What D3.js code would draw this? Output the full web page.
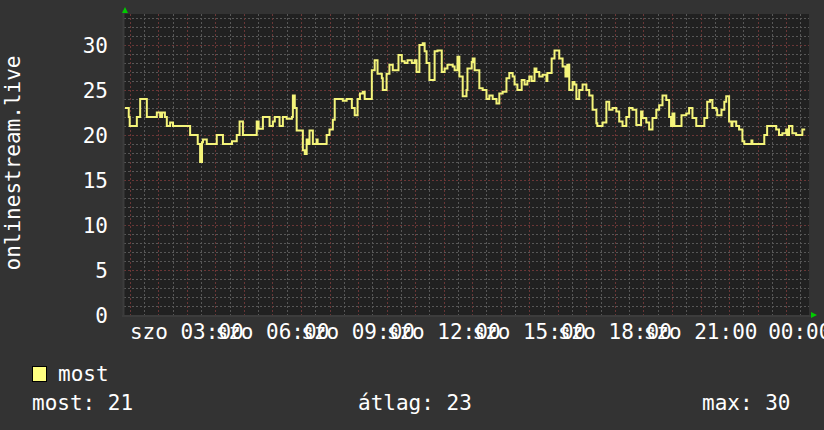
<!DOCTYPE html>
<html>
<head>
<meta charset="utf-8">
<script src="https://cdn.jsdelivr.net/npm/d3@7"></script>
<style>
  html, body { margin: 0; padding: 0; background: #333333; }
  svg text { font-family: "DejaVu Sans Mono", monospace; fill: #ffffff; }
</style>
</head>
<body>
<div id="chart"></div>
<script>
// samples (clock time, value)
var times = ["00:50","00:58","01:00","01:15","01:22","01:36","01:57","02:04","02:08","02:14",
  "02:18","02:25","02:31","03:07","03:23","03:28","03:32","03:34","03:42","04:03",
  "04:16","04:35","04:45","04:51","04:58","05:27","05:31","05:40","05:54","06:01",
  "06:05","06:15","06:22","06:30","06:41","06:43","06:47","06:51","07:04","07:08",
  "07:12","07:14","07:18","07:25","07:33","07:35","07:54","08:00","08:07","08:11",
  "08:28","08:36","08:47","08:53","08:59","09:04","09:10","09:14","09:29","09:35",
  "09:41","09:50","09:52","10:00","10:06","10:13","10:25","10:32","10:38","10:44",
  "10:53","10:59","11:03","11:09","11:16","11:20","11:24","11:30","11:41","11:47",
  "11:56","12:02","12:08","12:19","12:23","12:29","12:33","12:40","12:48","12:50",
  "12:59","13:01","13:05","13:15","13:22","13:30","13:36","13:43","13:51","13:57",
  "14:04","14:12","14:18","14:25","14:29","14:35","14:44","14:50","14:56","15:00",
  "15:05","15:11","15:15","15:21","15:28","15:36","15:38","15:47","15:53","16:03",
  "16:10","16:16","16:20","16:24","16:31","16:35","16:39","16:45","16:52","17:00",
  "17:06","17:13","17:21","17:23","17:34","17:42","17:48","17:55","18:03","18:09",
  "18:16","18:24","18:30","18:37","18:45","18:55","18:58","19:06","19:12","19:19",
  "19:27","19:33","19:40","19:48","19:54","19:58","20:01","20:05","20:20","20:30",
  "20:36","20:43","20:51","21:08","21:14","21:20","21:25","21:33","21:35","21:44",
  "21:50","21:54","22:00","22:05","22:07","22:15","22:21","22:28","22:32","22:47",
  "22:49","23:14","23:20","23:39","23:45","23:52","00:00","00:02","00:06","00:13",
  "00:21","00:34","00:40"];
var values = [23,22,21,22,24,22,22.5,22,22.5,22,
  21,21.4,21,20,19,17,19.2,19.5,19,20,
  19,19.3,20,21.5,20,21.5,20.7,22,21,21.5,
  22,21,22,21.8,22,24.4,23,20.5,18.3,17.9,
  19.5,19,20.5,19,19.5,19,20,20.6,21.7,24,
  23.8,24,23,22.2,24,24.6,24.8,24,27.2,28.3,
  26.8,26.3,25,26.8,27.8,27.2,28.9,28.2,28,28.3,
  28,28.3,27,30,30.2,29.3,28,26.1,29.3,29.4,
  27,27.4,27.8,27.6,27.2,28.7,26.5,24.3,25,27.4,
  28.1,28.5,27.2,25.2,25,24,24.4,24,23.5,24.6,
  24.8,26.3,26.9,26.5,25.6,25,26.1,25.6,26,26.5,
  26,27.4,27,26.5,26.7,26,26.9,28.5,29.4,28.5,
  27.6,26.5,27.8,25,25.9,25.6,24,25,25.6,25,
  24.4,22.8,21.3,21,21.4,23.7,22.8,23,22.6,21.5,
  21,22,23,22.8,21.1,22.6,21.9,21.4,20.6,21.9,
  22.8,23.3,24.4,23.9,22,21,22.4,21,22.2,22.4,
  23,21.9,21,21.9,23.7,23.9,23,22.8,22.2,22.8,
  23.7,24.3,21.5,21,21.5,21,20.6,19.3,19,19.4,
  19,20,21,20.6,20,20.2,20.6,20,21,20.2,
  20,20.6,20.6];

var xTickLabels = ["szo 03:00","szo 06:00","szo 09:00","szo 12:00","szo 15:00","szo 18:00","szo 21:00","00:00"];
var yTickLabels = ["0","5","10","15","20","25","30"];
var seriesName = "most";
var yTitle = "onlinestream.live";
var statLabels = ["most: 21","átlag: 23","max: 30"];

var width = 824, height = 430;
var plotLeft = 124, plotRight = 809, plotTop = 14, plotBottom = 315;

var start = new Date(2024, 0, 6, 0, 48), end = new Date(2024, 0, 7, 0, 48);

// build dates, rolling over midnight
var day = 6, prev = -1;
var data = times.map(function(t, i) {
  var p = t.split(":"), m = +p[0] * 60 + +p[1];
  if (m < prev) day++;
  prev = m;
  return { date: new Date(2024, 0, day, +p[0], +p[1]), value: values[i] };
});

var x = d3.scaleTime().domain([start, end]).range([plotLeft, plotRight]);
var y = d3.scaleLinear().domain([0, (plotBottom - plotTop) / 9]).range([plotBottom, plotTop]);

var svg = d3.select('#chart').append('svg')
  .attr('width', width)
  .attr('height', height)
  .style('display', 'block');

svg.append('rect').attr('width', width).attr('height', height).attr('fill', '#333333');
svg.append('rect')
  .attr('x', plotLeft).attr('y', plotTop)
  .attr('width', plotRight - plotLeft).attr('height', plotBottom - plotTop)
  .attr('fill', '#212121');

// horizontal grid
var yMinor = d3.range(1, 34);
svg.selectAll('.hgrid').data(yMinor).enter().append('line')
  .attr('x1', plotLeft).attr('x2', plotRight)
  .attr('y1', function(d) { return Math.round(y(d)) + 0.5; })
  .attr('y2', function(d) { return Math.round(y(d)) + 0.5; })
  .attr('stroke', function(d) { return d % 5 === 0 ? '#6a3636' : '#575757'; })
  .attr('stroke-dasharray', '2,2');

// vertical grid
var xMinor = d3.timeMinute.every(30).range(start, end);
svg.selectAll('.vgrid').data(xMinor).enter().append('line')
  .attr('x1', function(d) { return Math.round(x(d)) + 0.5; })
  .attr('x2', function(d) { return Math.round(x(d)) + 0.5; })
  .attr('y1', plotTop).attr('y2', plotBottom + 3)
  .attr('stroke', function(d) { return d.getMinutes() === 0 ? '#6a3636' : '#575757'; })
  .attr('stroke-dasharray', '2,2');

// axis lines
svg.append('line').attr('x1', plotLeft - 0.5).attr('x2', plotLeft - 0.5).attr('y1', plotTop - 4).attr('y2', plotBottom + 2)
  .attr('stroke', '#3c3c3c').attr('stroke-width', 2);
svg.append('line').attr('x1', plotLeft - 2).attr('x2', plotRight + 2).attr('y1', plotBottom + 1).attr('y2', plotBottom + 1)
  .attr('stroke', '#3c3c3c').attr('stroke-width', 2);

// green arrows
svg.append('path').attr('d', 'M122,13 L125,7 L128,13 Z').attr('fill', '#00cc00');
svg.append('path').attr('d', 'M811,312 L817,315 L811,318 Z').attr('fill', '#00cc00');

// y tick labels
svg.selectAll('.ylab').data(yTickLabels).enter().append('text')
  .attr('x', 108)
  .attr('y', function(d) { return y(+d); })
  .attr('dy', '0.36em')
  .attr('text-anchor', 'end')
  .attr('font-size', 21)
  .text(function(d) { return d; });

// x tick labels (the last one is only the time, pushed right)
var xTicks = d3.timeHour.every(3).range(start, end);
svg.selectAll('.xlab').data(xTicks).enter().append('text')
  .attr('x', function(d, i) { return i === xTicks.length - 1 ? x(d) - 18 : x(d); })
  .attr('y', 339)
  .attr('text-anchor', function(d, i) { return i === xTicks.length - 1 ? 'start' : 'middle'; })
  .attr('font-size', 21)
  .text(function(d, i) { return xTickLabels[i]; });

// y title
svg.append('text')
  .attr('transform', 'translate(20,163) rotate(-90)')
  .attr('text-anchor', 'middle')
  .attr('font-size', 21)
  .text(yTitle);

// the line
var line = d3.line()
  .x(function(d) { return x(d.date); })
  .y(function(d) { return y(d.value); })
  .curve(d3.curveStepAfter);

svg.append('path')
  .datum(data)
  .attr('d', line)
  .attr('fill', 'none')
  .attr('stroke', '#f4f47a')
  .attr('stroke-width', 2);

// legend
svg.append('rect').attr('x', 32.5).attr('y', 366.5).attr('width', 14).attr('height', 15)
  .attr('fill', '#ffff80').attr('stroke', '#000');
svg.append('text').attr('x', 58).attr('y', 381).attr('font-size', 21).text(seriesName);

var statX = [32, 358, 702];
svg.selectAll('.stat').data(statLabels).enter().append('text')
  .attr('x', function(d, i) { return statX[i]; })
  .attr('y', 410)
  .attr('font-size', 21)
  .text(function(d) { return d; });
</script>
</body>
</html>
